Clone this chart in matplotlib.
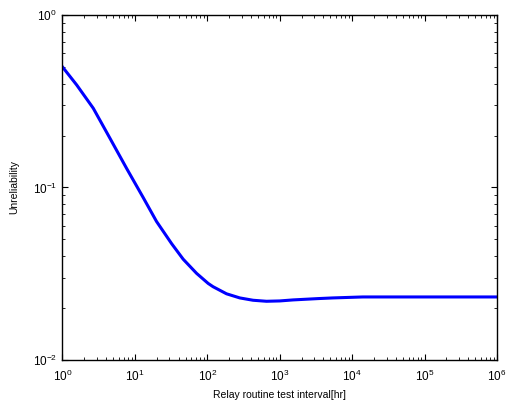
import numpy as np
import matplotlib.pyplot as plt
from matplotlib.ticker import NullFormatter

plt.rcParams['font.family'] = ['Liberation Sans', 'DejaVu Sans']
plt.rcParams['mathtext.default'] = 'regular'
plt.rcParams['axes.unicode_minus'] = False

# test interval [hr] and unreliability
interval = [1, 1.57, 2.66, 4.52, 7.68, 13.0, 19.9, 32.2, 46.4, 71,
            102.6, 120, 184, 281, 428, 656, 1000, 1525, 3390, 5400, 14000, 1e5, 1e6]
unreliability = [0.50, 0.393, 0.288, 0.193, 0.129, 0.0875, 0.0635,
                 0.0472, 0.0384, 0.0318, 0.0278, 0.0266, 0.0242, 0.0229, 0.0222,
                 0.0219, 0.0220, 0.0223, 0.0227, 0.0229, 0.0232, 0.0232, 0.0232]

fig = plt.figure(figsize=(5.11, 4.04), dpi=100)
ax = fig.add_axes([0.1223, 0.1089, 0.8503, 0.854])

ax.loglog(interval, unreliability, color='#0000ff', linewidth=2.2,
          solid_joinstyle='round')

ax.set_xlim(1, 1e6)
ax.set_ylim(1e-2, 1)
ax.set_xlabel('Relay routine test interval[hr]', fontsize=7.5, labelpad=5)
ax.set_ylabel('Unreliability', fontsize=7.5, labelpad=10)

ax.xaxis.set_minor_formatter(NullFormatter())
ax.yaxis.set_minor_formatter(NullFormatter())
ax.tick_params(which='both', direction='in', top=True, right=True, labelsize=8.5)
ax.tick_params(axis='x', pad=6)
ax.tick_params(axis='y', pad=4)
ax.tick_params(which='major', length=4, width=0.8)
ax.tick_params(which='minor', length=2, width=0.6)
for s in ax.spines.values():
    s.set_linewidth(1.0)

fig.savefig('out.png', dpi=100)
